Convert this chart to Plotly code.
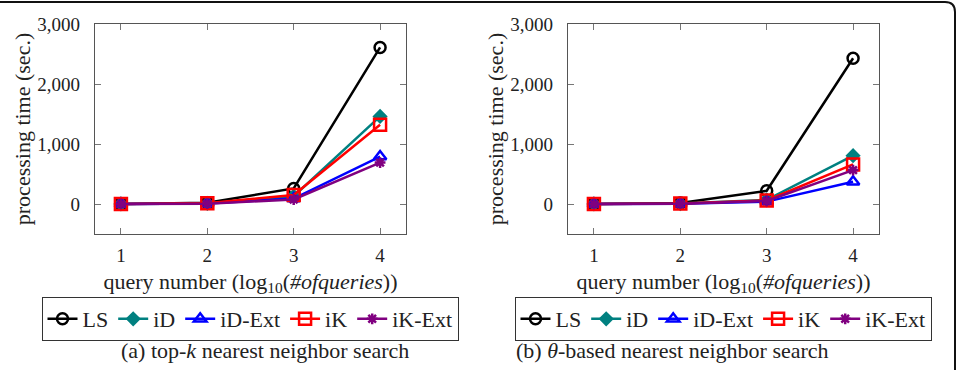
import plotly.graph_objects as go

W, H = 961, 370
x_vals = [1, 2, 3, 4]
series = ["LS", "iD", "iD-Ext", "iK", "iK-Ext"]

# panel (a) top-k nearest neighbor search
a_LS = [2, 20, 260, 2610]
a_iD = [1, 10, 130, 1460]
a_iDExt = [1, 8, 90, 790]
a_iK = [1, 12, 150, 1320]
a_iKExt = [1, 6, 75, 690]

# panel (b) theta-based nearest neighbor search
b_LS = [2, 18, 220, 2430]
b_iD = [1, 8, 70, 805]
b_iDExt = [1, 5, 40, 370]
b_iK = [1, 7, 60, 660]
b_iKExt = [1, 5, 50, 565]

y_tickvals = [0, 1000, 2000, 3000]
y_ticktext = ["0", "1,000", "2,000", "3,000"]

colors = ["#000000", "#008080", "#0000ff", "#ff0000", "#800080"]
symbols = ["circle-open", "diamond", "triangle-up-open", "square-open", "asterisk-open"]
sizes = [11, 9, 11, 12, 9]

FONT = "Liberation Serif"

def px(x):
    return x / W

def py(y):
    return 1 - y / H

fig = go.Figure()

panels = [
    ([a_LS, a_iD, a_iDExt, a_iK, a_iKExt], "x", "y", "legend"),
    ([b_LS, b_iD, b_iDExt, b_iK, b_iKExt], "x2", "y2", "legend2"),
]
for data, xa, ya, leg in panels:
    for name, vals, c, s, sz in zip(series, data, colors, symbols, sizes):
        fig.add_trace(go.Scatter(
            x=x_vals, y=vals, name=name, mode="lines+markers",
            line=dict(color=c, width=2.5),
            marker=dict(symbol=s, size=sz, color=c, line=dict(color=c, width=2.5)),
            xaxis=xa, yaxis=ya, legend=leg,
        ))

axis_common = dict(
    showline=True, linecolor="#555555", linewidth=1.3, mirror="allticks",
    ticks="inside", ticklen=6, tickcolor="#777777", tickwidth=1,
    showgrid=False, zeroline=False, automargin=False,
    tickfont=dict(family=FONT, size=19, color="#222222"),
)
xt = "query number (log<sub>10</sub>(<i>#ofqueries</i>))"
yt = "processing time (sec.)"
TF = dict(family=FONT, size=22, color="#222222")

fig.update_layout(
    template="none",
    width=W, height=H,
    margin=dict(l=0, r=0, t=0, b=0),
    paper_bgcolor="white", plot_bgcolor="white",
    font=dict(family=FONT, color="#222222"),
    xaxis=dict(domain=[px(95), px(406)], range=[0.7, 4.3], tickvals=x_vals, ticklabelstandoff=4,
               title=dict(text=xt, font=TF, standoff=8), anchor="y", **axis_common),
    yaxis=dict(domain=[py(234), py(24)], range=[-500, 3000], tickvals=y_tickvals, ticktext=y_ticktext,
               ticklabelstandoff=10,
               title=dict(text=yt, font=TF, standoff=0), anchor="x", **axis_common),
    xaxis2=dict(domain=[px(568), px(879)], range=[0.7, 4.3], tickvals=x_vals, ticklabelstandoff=4,
                title=dict(text=xt, font=TF, standoff=8), anchor="y2", **axis_common),
    yaxis2=dict(domain=[py(234), py(24)], range=[-500, 3000], tickvals=y_tickvals, ticktext=y_ticktext,
                ticklabelstandoff=10,
                title=dict(text=yt, font=TF, standoff=0), anchor="x2", **axis_common),
    legend=dict(orientation="h", x=px(250), y=py(297), xanchor="center", yanchor="top",
                bordercolor="#333333", borderwidth=1, bgcolor="white",
                font=dict(family=FONT, size=22, color="#222222"), itemwidth=30, tracegroupgap=0),
    legend2=dict(orientation="h", x=px(723), y=py(297), xanchor="center", yanchor="top",
                 bordercolor="#333333", borderwidth=1, bgcolor="white",
                 font=dict(family=FONT, size=22, color="#222222"), itemwidth=30, tracegroupgap=0),
    showlegend=True,
    annotations=[
        dict(text="(a) top-<i>k</i> nearest neighbor search", x=px(265), y=py(350),
             xanchor="center", yanchor="middle",
             xref="paper", yref="paper", showarrow=False, font=dict(family=FONT, size=22, color="#222222")),
        dict(text="(b) <i>θ</i>-based nearest neighbor search", x=px(672), y=py(350),
             xanchor="center", yanchor="middle",
             xref="paper", yref="paper", showarrow=False, font=dict(family=FONT, size=22, color="#222222")),
    ],
    shapes=[
        dict(type="path", xref="paper", yref="paper",
             path=f"M {px(-10)},{py(2)} L {px(945)},{py(2)} Q {px(955)},{py(2)} {px(955)},{py(12)} L {px(955)},{py(380)}",
             line=dict(color="#111111", width=2)),
    ],
)

fig.write_html("out.html")
